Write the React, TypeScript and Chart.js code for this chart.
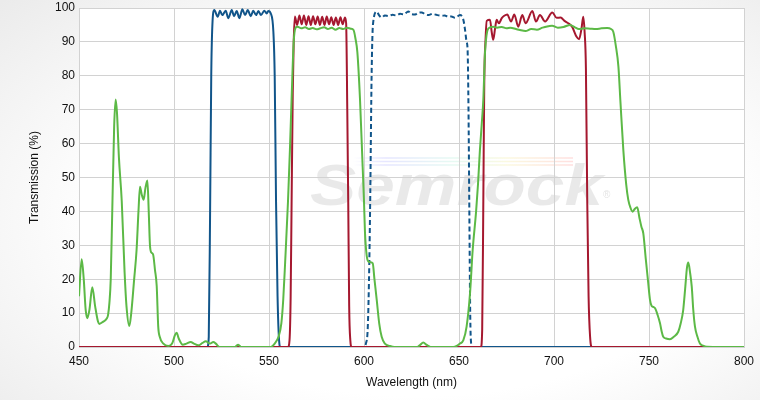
import React, { useEffect, useRef } from "react";
import { Chart, registerables } from "chart.js";

Chart.register(...registerables);

// Wavelength (nm) / transmission (%) pairs for each filter curve
const greenCurve: [number, number][] = [
  [450, 15], [451.4, 25.9], [452.5, 20], [453.5, 11], [454.4, 8.5], [455.5, 11], [457, 17.6], [458.5, 12],
  [460, 7.5], [460.7, 6.8], [462.8, 7.5], [464.5, 8.3], [465.3, 9.5], [466, 13], [466.7, 20], [467.5, 40],
  [468.5, 65], [469.3, 73], [470, 69], [471, 56], [472.5, 43], [474, 22], [475, 12], [476.5, 6.2],
  [477.5, 10], [479, 19.8], [480.3, 28.6], [481.3, 40], [482.1, 47.3], [483, 45], [484, 43.4], [485, 47],
  [486, 49.1], [486.7, 40], [487.4, 29.6], [488.2, 27.8], [489, 27.3], [490, 22.7], [490.9, 18], [491.7, 6],
  [492.5, 3], [494.4, 1], [497, 0.3], [499, 1], [500.5, 3.5], [501.4, 4.2], [502.5, 2.5], [504.6, 0.7],
  [506.5, 1], [508.8, 1.5], [510.5, 1], [512.8, 0.5], [515, 1.2], [516.7, 1.7], [519, 1], [520.7, 1.5],
  [522, 1], [524, 0], [532, 0], [533.8, 0.7], [535.5, 0], [551, 0], [553, 1], [555, 3], [556.5, 7],
  [557.5, 14], [558.5, 25], [560, 43], [561, 58], [562, 75], [563, 90], [564, 94.2], [565, 94.5], [567, 94],
  [569, 94.3], [571, 93.8], [573, 94.1], [575, 93.7], [577, 94], [579, 94.3], [581, 93.8], [583, 94.2],
  [585, 93.6], [587, 94.1], [589, 93.8], [591, 94.2], [593, 93.9], [594.5, 93.5], [595.5, 91], [596.5, 87],
  [597.9, 73], [599.3, 53], [600, 43], [600.5, 34], [601.4, 27], [602.3, 25.2], [603.5, 25], [604.6, 24.7],
  [605.5, 20], [606.7, 13.9], [608, 7], [609.3, 3], [611, 1], [613.7, 0.3], [616, 0], [628, 0], [629.5, 0.6],
  [631.2, 1.3], [633, 0.6], [635, 0], [647, 0], [648.8, 0.3], [650.5, 1], [652.3, 2], [654, 6], [655.8, 15.8],
  [657.2, 28.6], [659, 40], [660, 48], [661, 58], [662, 66], [662.8, 73], [663.7, 87], [664.5, 92], [665.5, 94],
  [668, 94.5], [670, 94.2], [672.5, 94.4], [675, 94], [677, 94.2], [680, 93.8], [682, 93.5], [685, 93.2],
  [688, 93.8], [691, 93.6], [694, 94.2], [697, 94.6], [699, 94.8], [702, 94.2], [705, 94.4], [708.5, 95],
  [711, 94.3], [713, 93.8], [716, 94], [719, 93.9], [722, 93.8], [725, 94], [728, 94.1], [730, 93.8],
  [731.2, 93], [732.5, 89], [733.9, 82.7], [735, 72], [736.5, 58], [738, 48], [739.1, 43.4], [740.3, 41],
  [741.4, 39.9], [742.6, 40.8], [743.8, 41.2], [745, 38], [746, 35.5], [747, 33.5], [748.3, 26], [749.6, 18.8],
  [750.5, 14], [751.4, 12.1], [752.3, 11.8], [753.2, 11.4], [754.5, 9.5], [755.8, 7], [756.7, 4.5], [757.5, 3],
  [759, 2.5], [761, 2.3], [763, 3], [765.4, 4.5], [766.7, 7], [768, 10.9], [769, 17], [770, 23.5], [770.7, 24.9],
  [771.6, 22], [772.5, 17.8], [773.3, 11], [774.2, 6], [775.5, 3], [776.8, 1], [778.5, 0.4], [780.4, 0.1], [800, 0],
];

const redCurve: [number, number][] = [
  [450, 0], [560, 0], [560.8, 2], [561.4, 15], [561.9, 43], [562.5, 75], [563, 90], [563.6, 97.5],
  [564.8, 95], [566, 97.8], [567.2, 95.2], [568.4, 97.8], [569.6, 95], [570.8, 97.6], [572, 95], [573.2, 97.6],
  [574.4, 95.2], [575.6, 97.5], [576.8, 95], [578, 97.4], [579.2, 95], [580.4, 97.5], [581.6, 95.2], [582.8, 97.3],
  [584, 95], [585.2, 97.2], [586.4, 95], [587.6, 97.3], [588.8, 95.2], [590, 97.2], [590.6, 95.5], [591.2, 70],
  [591.7, 43], [592.2, 12], [592.8, 2], [593.5, 0], [661.5, 0], [662.2, 5], [662.8, 43], [663.3, 78], [664, 91],
  [664.6, 96.2], [666.3, 96.5], [667.2, 93], [668, 90.6], [669, 94], [669.8, 96.5], [671, 95.5], [672.5, 97],
  [673.8, 97.7], [675.4, 98.1], [677.4, 96], [679.1, 98.1], [681.2, 94.5], [683.3, 97.9], [685.1, 95.5],
  [688.6, 99.1], [690.5, 96], [692.6, 97.9], [695.3, 96], [699.1, 98.7], [701.4, 97.1], [703.5, 97.2],
  [705.5, 96.2], [707.5, 95.5], [709.5, 94.5], [711.9, 91.5], [713.2, 90.8], [714.5, 94], [715.4, 97.4],
  [716.1, 93], [716.8, 82], [717.5, 43], [718.2, 15], [719, 3], [720, 0], [800, 0],
];

const blueDashedCurve: [number, number][] = [
  [450, 0], [600, 0], [601, 1], [602, 6], [602.8, 25], [603.3, 45], [604, 80], [604.7, 95], [606.7, 98.9],
  [608, 97.8], [609.3, 97.2], [611, 97.8], [613, 97.6], [615, 98], [617, 97.8], [619, 98.3], [621, 98.1],
  [623.3, 99], [625, 98.2], [627, 98.1], [628.5, 98.6], [630.4, 98.7], [632, 98.2], [634, 97.9], [636, 98.3],
  [638, 98], [640.9, 97.7], [642.5, 97.8], [644.4, 97.4], [646, 97.5], [647.9, 97.1], [650.5, 97.9],
  [652.3, 96.5], [653.2, 93.5], [654, 90], [654.5, 88], [655, 70], [655.4, 43], [655.9, 10], [656.4, 1],
  [657, 0], [800, 0],
];

const blueCurve: [number, number][] = [
  [450, 0], [517.5, 0], [518.3, 3], [519, 40], [519.6, 80], [520.2, 95], [521.2, 99.4], [523, 97.4],
  [524.2, 99.2], [525.4, 97.9], [527.2, 99.2], [528.6, 97], [530.4, 99.4], [531.6, 97.6], [533, 99.1],
  [534.4, 97], [536, 99.6], [537.4, 97.9], [538.8, 99.4], [540.4, 97.6], [541.7, 99.2], [543.2, 97.9],
  [544.4, 99.1], [545.8, 97.9], [547.5, 99.2], [548.8, 98.4], [549.6, 99.1], [551, 98.3], [552.3, 93],
  [553, 80], [553.7, 43], [554.5, 15], [555.3, 2], [556, 0], [800, 0],
];

const xTicks = [450, 500, 550, 600, 650, 700, 750, 800];
const yTicks = [0, 10, 20, 30, 40, 50, 60, 70, 80, 90, 100];

const xTitle = "Wavelength (nm)";
const yTitle = "Transmission (%)";
const watermarkText = "Semrock";

const FONT = 'Arial, "Liberation Sans", sans-serif';

const toPoints = (arr: [number, number][]) => arr.map(([x, y]) => ({ x, y }));

const backgroundPlugin = {
  id: "bgAndWatermark",
  beforeDraw(chart: any) {
    const { ctx, chartArea } = chart;
    const { left, top, right, bottom } = chartArea;
    ctx.save();
    ctx.fillStyle = "#ffffff";
    ctx.fillRect(left, top, right - left, bottom - top);

    // rainbow stripe
    const sx0 = 353, sx1 = 573;
    const grad = ctx.createLinearGradient(sx0, 0, sx1, 0);
    grad.addColorStop(0, "rgba(120,120,255,0.0)");
    grad.addColorStop(0.15, "rgba(140,140,255,0.22)");
    grad.addColorStop(0.45, "rgba(140,230,200,0.22)");
    grad.addColorStop(0.7, "rgba(240,230,130,0.25)");
    grad.addColorStop(1, "rgba(255,140,140,0.28)");
    ctx.strokeStyle = grad;
    ctx.lineWidth = 1.6;
    for (const yy of [158, 161.5, 165]) {
      ctx.beginPath();
      ctx.moveTo(sx0, yy);
      ctx.lineTo(sx1, yy);
      ctx.stroke();
    }

    // watermark text
    ctx.font = `italic bold 58px ${FONT}`;
    const w = ctx.measureText(watermarkText).width;
    const targetW = 293;
    const sc = targetW / w;
    ctx.translate(310, 205);
    ctx.scale(sc, 1);
    ctx.fillStyle = "rgba(0,0,0,0.085)";
    ctx.textBaseline = "alphabetic";
    ctx.fillText(watermarkText, 0, 0);
    ctx.setTransform(1, 0, 0, 1, 0, 0);
    ctx.font = `10px ${FONT}`;
    ctx.fillStyle = "rgba(0,0,0,0.12)";
    ctx.fillText("®", 603, 198);
    ctx.restore();
  },
};

export default function App() {
  const canvasRef = useRef<HTMLCanvasElement | null>(null);

  useEffect(() => {
    document.body.style.margin = "0";
    const canvas = canvasRef.current;
    if (!canvas) return;
    const common = {
      pointRadius: 0,
      pointHoverRadius: 0,
      borderWidth: 2,
      fill: false,
      cubicInterpolationMode: "monotone" as const,
    };
    const chart = new Chart(canvas, {
      type: "line",
      data: {
        datasets: [
          { ...common, label: "green", data: toPoints(greenCurve), borderColor: "#5cb946", order: 0 },
          { ...common, label: "red", data: toPoints(redCurve), borderColor: "#a5182f", order: 1 },
          {
            ...common,
            label: "blueDashed",
            data: toPoints(blueDashedCurve),
            borderColor: "#11558a",
            borderDash: [5, 3],
            order: 2,
          },
          { ...common, label: "blue", data: toPoints(blueCurve), borderColor: "#11558a", order: 3 },
        ],
      },
      options: {
        responsive: false,
        animation: false,
        devicePixelRatio: 1,
        layout: { padding: { top: 8, right: 16, left: 0, bottom: 0 } },
        plugins: { legend: { display: false }, tooltip: { enabled: false } },
        scales: {
          x: {
            type: "linear",
            min: 450,
            max: 800,
            afterBuildTicks: (scale: any) => {
              scale.ticks = xTicks.map((v) => ({ value: v }));
            },
            afterFit: (scale: any) => {
              scale.height = 53;
              scale.paddingLeft = 0;
              scale.paddingRight = 0;
            },
            grid: { color: "#d2d2d2", drawTicks: false, lineWidth: 1 },
            border: { color: "#d2d2d2" },
            ticks: { color: "#111", font: { family: FONT, size: 12 }, padding: 7, maxRotation: 0 },
            title: {
              display: true,
              text: xTitle,
              color: "#111",
              font: { family: FONT, size: 12 },
              padding: { top: 4, bottom: 10 },
            },
          },
          y: {
            type: "linear",
            min: 0,
            max: 100,
            afterBuildTicks: (scale: any) => {
              scale.ticks = yTicks.map((v) => ({ value: v }));
            },
            afterFit: (scale: any) => {
              scale.width = 79;
              scale.paddingTop = 0;
              scale.paddingBottom = 0;
            },
            grid: { color: "#d2d2d2", drawTicks: false, lineWidth: 1 },
            border: { color: "#d2d2d2" },
            ticks: { color: "#111", font: { family: FONT, size: 12 }, padding: 4 },
            title: {
              display: true,
              text: yTitle,
              color: "#111",
              font: { family: FONT, size: 12 },
              padding: { top: 27, bottom: 0 },
            },
          },
        },
      },
      plugins: [backgroundPlugin],
    });
    return () => chart.destroy();
  }, []);

  return (
    <div
      style={{
        position: "absolute",
        left: 0,
        top: 0,
        width: 760,
        height: 400,
        background:
          "radial-gradient(ellipse 75% 80% at 55% 55%, #ffffff 55%, #ebebeb 100%)",
      }}
    >
      <canvas ref={canvasRef} width={760} height={400} style={{ display: "block" }} />
    </div>
  );
}
